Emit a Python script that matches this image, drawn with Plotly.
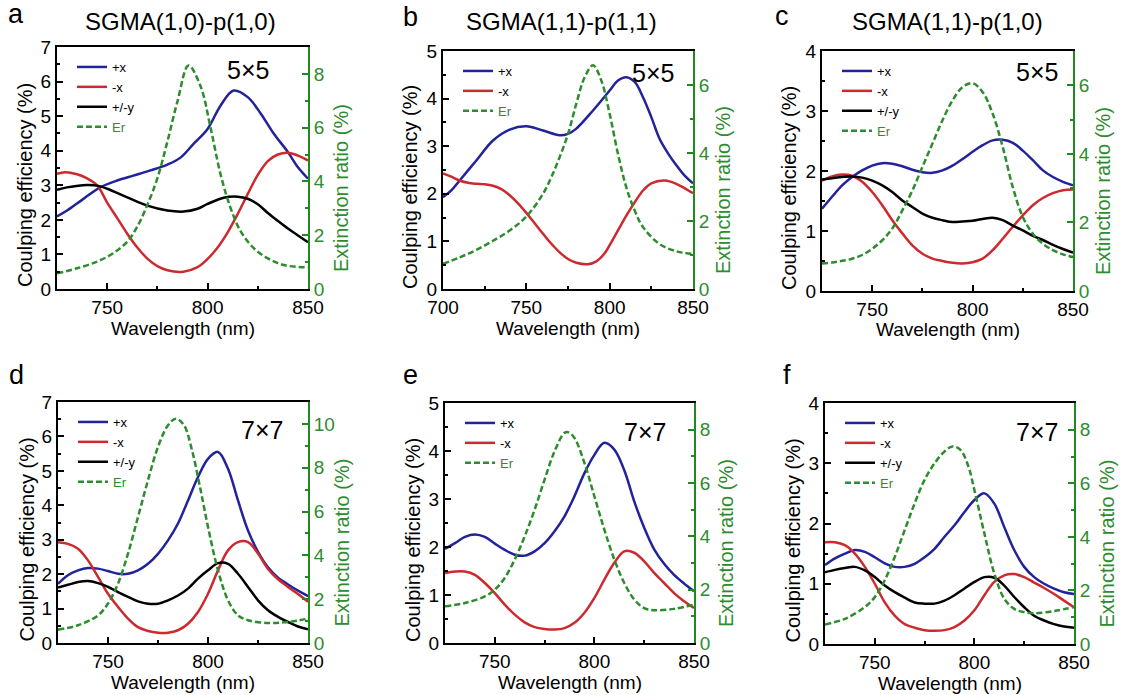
import plotly.graph_objects as go

# ---------------- data ----------------
# Panel a : SGMA(1,0)-p(1,0), 5x5
a_px_wl = [725, 730, 738, 746.5, 755, 763, 771.5, 780, 786.5, 793, 800, 806.5, 813, 820, 826.5, 833, 840, 845, 850]
a_px = [2.1, 2.27, 2.6, 2.94, 3.14, 3.28, 3.43, 3.6, 3.8, 4.2, 4.63, 5.31, 5.74, 5.55, 5.07, 4.49, 3.96, 3.52, 3.19]
a_mx_wl = [725, 729, 735, 740, 745, 750, 755, 760, 765, 770, 775, 780, 788, 795, 800, 805, 810, 815, 820, 825, 830, 835, 840, 845, 850]
a_mx = [3.33, 3.38, 3.32, 3.2, 3.0, 2.5, 2.05, 1.6, 1.2, 0.88, 0.66, 0.54, 0.5, 0.63, 0.87, 1.2, 1.64, 2.17, 2.75, 3.3, 3.7, 3.89, 3.94, 3.86, 3.72]
a_y_wl = [725, 730, 740, 745, 750, 760, 770, 780, 788, 795, 800, 808, 815, 820, 825, 830, 835, 840, 845, 850]
a_y = [2.87, 2.94, 3.01, 2.99, 2.9, 2.65, 2.41, 2.27, 2.24, 2.32, 2.46, 2.64, 2.67, 2.61, 2.45, 2.2, 1.97, 1.75, 1.55, 1.35]
a_er_wl = [725, 735, 745, 753, 760, 765, 770, 775, 780, 785, 790.5, 796.5, 801.5, 806.5, 811.5, 816.5, 823, 830, 838, 850]
a_er = [0.58, 0.77, 1.02, 1.33, 1.76, 2.32, 3.13, 4.12, 5.49, 6.98, 8.31, 7.54, 5.99, 4.25, 3.0, 2.14, 1.52, 1.14, 0.89, 0.8]

# Panel b : SGMA(1,1)-p(1,1), 5x5
b_px_wl = [700, 705, 710, 720, 730, 740, 750, 760, 770, 775, 780, 790, 800, 805, 810, 815, 820, 825, 830, 835, 840, 845, 850]
b_px = [1.93, 2.07, 2.28, 2.7, 3.12, 3.35, 3.42, 3.33, 3.23, 3.26, 3.37, 3.75, 4.17, 4.38, 4.45, 4.35, 4.03, 3.61, 3.15, 2.85, 2.6, 2.38, 2.22]
b_mx_wl = [700, 705, 710, 715, 720, 725, 730, 735, 740, 745, 750, 755, 760, 765, 770, 775, 780, 787, 792, 797, 800, 805, 810, 815, 820, 825, 833, 840, 850]
b_mx = [2.43, 2.36, 2.28, 2.23, 2.21, 2.2, 2.17, 2.1, 1.97, 1.8, 1.6, 1.38, 1.16, 0.95, 0.77, 0.63, 0.55, 0.52, 0.58, 0.75, 0.92, 1.23, 1.54, 1.82, 2.07, 2.22, 2.28, 2.21, 2.01]
b_er_wl = [700, 710, 720, 730, 740, 750, 760, 765, 770, 775, 780, 785, 790, 795, 800, 805, 810, 815, 820, 830, 840, 850]
b_er = [0.74, 0.93, 1.15, 1.42, 1.72, 2.13, 2.8, 3.29, 3.88, 4.56, 5.45, 6.23, 6.58, 6.13, 5.15, 3.97, 2.99, 2.31, 1.82, 1.32, 1.11, 1.03]

# Panel c : SGMA(1,1)-p(1,0), 5x5
c_wl = [725, 730, 735, 740, 745, 750, 755, 760, 765, 770, 775, 780, 785, 790, 795, 800, 805, 810, 815, 820, 825, 830, 835, 840, 845, 850]
c_px = [1.37, 1.57, 1.76, 1.9, 2.01, 2.09, 2.13, 2.12, 2.08, 2.02, 1.98, 1.97, 2.01, 2.09, 2.2, 2.32, 2.43, 2.51, 2.52, 2.47, 2.34, 2.18, 2.01, 1.9, 1.82, 1.76]
c_mx = [1.84, 1.91, 1.94, 1.92, 1.82, 1.65, 1.43, 1.18, 0.96, 0.76, 0.62, 0.54, 0.5, 0.47, 0.46, 0.48, 0.54, 0.68, 0.87, 1.07, 1.26, 1.43, 1.55, 1.63, 1.68, 1.69]
c_y = [1.86, 1.88, 1.9, 1.91, 1.89, 1.84, 1.76, 1.65, 1.51, 1.4, 1.29, 1.22, 1.18, 1.15, 1.16, 1.17, 1.2, 1.22, 1.18, 1.09, 1.01, 0.92, 0.85, 0.77, 0.7, 0.64]
c_er = [0.8, 0.83, 0.88, 0.94, 1.05, 1.23, 1.48, 1.82, 2.35, 2.93, 3.62, 4.3, 4.98, 5.56, 5.95, 6.06, 5.8, 5.17, 4.2, 3.03, 2.16, 1.67, 1.38, 1.19, 1.07, 0.99]

# Panel d : SGMA(1,0)-p(1,0), 7x7
d_wl = [725, 730, 735, 740, 745, 750, 755, 760, 765, 770, 775, 780, 785, 790, 795, 800, 805, 810, 815, 820, 825, 830, 835, 840, 845, 850]
d_px = [1.72, 1.97, 2.11, 2.18, 2.16, 2.09, 2.01, 2.01, 2.11, 2.3, 2.59, 2.98, 3.47, 4.14, 4.82, 5.35, 5.55, 5.06, 4.14, 3.27, 2.65, 2.2, 1.9, 1.7, 1.52, 1.36]
d_mx = [2.93, 2.88, 2.74, 2.4, 1.92, 1.43, 1.05, 0.71, 0.46, 0.35, 0.3, 0.3, 0.37, 0.56, 0.9, 1.43, 2.11, 2.69, 2.93, 2.93, 2.6, 2.15, 1.85, 1.63, 1.42, 1.2]
d_y = [1.61, 1.69, 1.77, 1.8, 1.74, 1.63, 1.48, 1.34, 1.21, 1.14, 1.14, 1.24, 1.38, 1.58, 1.87, 2.11, 2.32, 2.3, 2.01, 1.63, 1.24, 0.95, 0.76, 0.61, 0.48, 0.4]
d_er_wl = [725, 735, 745, 750, 755, 760, 765, 770, 775, 780, 784, 788, 792, 796, 800, 805, 810, 815, 820, 830, 840, 850]
d_er = [0.61, 0.81, 1.26, 1.8, 2.71, 4.08, 5.75, 7.43, 8.95, 9.94, 10.24, 9.94, 8.8, 7.12, 5.3, 3.32, 1.95, 1.26, 1.04, 0.91, 0.96, 1.11]

# Panel e : SGMA(1,1)-p(1,1), 7x7
e_wl = [725, 730, 735, 740, 745, 750, 755, 760, 765, 770, 775, 780, 785, 790, 795, 800, 805, 810, 815, 820, 825, 830, 835, 840, 845, 850]
e_px = [1.96, 2.08, 2.21, 2.26, 2.21, 2.07, 1.94, 1.84, 1.82, 1.91, 2.08, 2.33, 2.64, 3.06, 3.54, 3.92, 4.17, 4.03, 3.6, 2.95, 2.4, 1.95, 1.65, 1.42, 1.24, 1.08]
e_mx = [1.46, 1.49, 1.49, 1.42, 1.25, 1.04, 0.8, 0.59, 0.43, 0.33, 0.29, 0.28, 0.31, 0.42, 0.63, 0.94, 1.32, 1.67, 1.91, 1.88, 1.7, 1.46, 1.25, 1.04, 0.87, 0.73]
e_er_wl = [725, 735, 745, 750, 755, 760, 765, 770, 775, 780, 785, 787, 790, 795, 800, 805, 810, 815, 820, 825, 830, 840, 850]
e_er = [1.38, 1.5, 1.75, 2.0, 2.44, 3.13, 4.0, 5.0, 6.13, 7.19, 7.88, 7.9, 7.69, 6.75, 5.5, 4.25, 3.13, 2.25, 1.63, 1.31, 1.23, 1.28, 1.44]

# Panel f : SGMA(1,1)-p(1,0), 7x7
f_wl = [725, 730, 735, 740, 745, 750, 755, 760, 765, 770, 775, 780, 785, 790, 795, 800, 805, 810, 815, 820, 825, 830, 835, 840, 845, 850]
f_px = [1.31, 1.42, 1.5, 1.56, 1.53, 1.44, 1.34, 1.28, 1.28, 1.33, 1.44, 1.58, 1.78, 1.97, 2.19, 2.39, 2.5, 2.33, 1.94, 1.56, 1.28, 1.11, 1.0, 0.92, 0.86, 0.83]
f_mx = [1.69, 1.69, 1.64, 1.5, 1.28, 1.0, 0.69, 0.47, 0.33, 0.27, 0.23, 0.22, 0.23, 0.28, 0.39, 0.56, 0.81, 1.03, 1.14, 1.16, 1.11, 1.02, 0.93, 0.83, 0.72, 0.61]
f_y = [1.19, 1.23, 1.26, 1.28, 1.22, 1.11, 0.97, 0.86, 0.77, 0.69, 0.67, 0.67, 0.72, 0.81, 0.92, 1.03, 1.11, 1.1, 0.97, 0.78, 0.61, 0.47, 0.39, 0.33, 0.29, 0.27]
f_er_wl = [725, 735, 745, 750, 755, 760, 765, 770, 775, 780, 785, 789, 793, 797, 800, 805, 810, 815, 820, 825, 830, 840, 850]
f_er = [0.73, 0.94, 1.38, 1.75, 2.38, 3.25, 4.25, 5.25, 6.13, 6.75, 7.19, 7.38, 7.25, 6.63, 5.75, 4.13, 2.63, 1.69, 1.31, 1.19, 1.15, 1.23, 1.38]

panel_letters = ["a", "b", "c", "d", "e", "f"]
panel_titles = ["SGMA(1,0)-p(1,0)", "SGMA(1,1)-p(1,1)", "SGMA(1,1)-p(1,0)"]
array_sizes = ["5×5", "5×5", "5×5", "7×7", "7×7", "7×7"]
left_ranges = [[0, 7], [0, 5], [0, 4], [0, 7], [0, 5], [0, 4]]
right_ranges = [[0, 9], [0, 7], [0, 7], [0, 11], [0, 9], [0, 9]]
x_ranges = [[725, 850], [700, 850], [725, 850], [725, 850], [725, 850], [725, 850]]
x_ticks = [[750, 800, 850], [700, 750, 800, 850], [750, 800, 850], [750, 800, 850], [750, 800, 850], [750, 800, 850]]
series_names = ["+x", "-x", "+/-y", "Er"]
x_title = "Wavelength (nm)"
yl_title = "Coulping efficiency (%)"
yr_title = "Extinction ratio (%)"

# ---------------- styling / layout ----------------
W, H = 1121, 695
FONT = "Liberation Sans, Arial, sans-serif"
BLUE = "#22229a"
RED = "#cc2a2e"
BLACK = "#000000"
GREEN = "#2d8c2d"
GREEN_AX = "#1f8a1f"

def px(x):
    return x / W

def py(y):
    return 1 - y / H

# plot-area boxes in pixels (left, top, right, bottom)
boxes = [
    (57, 47, 308, 289),
    (443, 51, 693, 289),
    (822, 51, 1073, 291),
    (58, 402, 308, 643),
    (445, 403, 694, 643),
    (825, 403, 1074, 644),
]
letter_pos = [(16, 14), (410, 17), (782, 16), (16, 375), (410, 375), (787, 375)]
size_pos = [(248, 70), (653, 73), (1037, 72), (262, 430), (645, 432), (1037, 432)]
left_title_x = [25, 410, 789, 26, 413, 792]
right_title_x = [341, 723, 1103, 341, 726, 1106]
title_pos = [(180, 22), (561, 22), (947, 22)]

panels = [
    [(a_px_wl, a_px, BLUE), (a_mx_wl, a_mx, RED), (a_y_wl, a_y, BLACK), (a_er_wl, a_er, GREEN)],
    [(b_px_wl, b_px, BLUE), (b_mx_wl, b_mx, RED), None, (b_er_wl, b_er, GREEN)],
    [(c_wl, c_px, BLUE), (c_wl, c_mx, RED), (c_wl, c_y, BLACK), (c_wl, c_er, GREEN)],
    [(d_wl, d_px, BLUE), (d_wl, d_mx, RED), (d_wl, d_y, BLACK), (d_er_wl, d_er, GREEN)],
    [(e_wl, e_px, BLUE), (e_wl, e_mx, RED), None, (e_er_wl, e_er, GREEN)],
    [(f_wl, f_px, BLUE), (f_wl, f_mx, RED), (f_wl, f_y, BLACK), (f_er_wl, f_er, GREEN)],
]

fig = go.Figure()
layout = dict(
    width=W, height=H,
    margin=dict(l=0, r=0, t=0, b=0),
    paper_bgcolor="white", plot_bgcolor="white",
    font=dict(family=FONT, size=19, color="black"),
    annotations=[],
)

def ann(text, x, y, size, color="black", angle=0, xanchor="center"):
    return dict(text=text, x=px(x), y=py(y), xref="paper", yref="paper",
                xanchor=xanchor, yanchor="middle", showarrow=False, textangle=angle,
                font=dict(size=size, color=color, family=FONT))

for i, (box, series) in enumerate(zip(boxes, panels)):
    k = i + 1
    xname = "x" if k == 1 else f"x{k}"
    yl = 2 * k - 1
    yr = 2 * k
    ylname = "y" if yl == 1 else f"y{yl}"
    yrname = f"y{yr}"
    legname = "legend" if k == 1 else f"legend{k}"
    l, t, r, b = box

    for j, s in enumerate(series):
        if s is None:
            continue
        wl, vals, col = s
        is_er = (j == 3)
        name = series_names[j]
        if is_er:
            name = f"<span style='color:{GREEN}'>Er</span>"
        fig.add_trace(go.Scatter(
            x=wl, y=vals, mode="lines", name=name,
            line=dict(color=col, width=2.5, shape="spline", smoothing=1.0,
                      dash="6px,3px" if is_er else "solid"),
            xaxis=xname, yaxis=yrname if is_er else ylname,
            legend=legname, showlegend=True,
        ))

    xd = [px(l), px(r)]
    yd = [py(b), py(t)]
    layout[f"xaxis{k}" if k > 1 else "xaxis"] = dict(
        domain=xd, anchor=ylname, range=x_ranges[i],
        tickvals=x_ticks[i], ticks="inside", ticklen=6, tickwidth=2, tickcolor="black",
        minor=dict(dtick=25, tick0=700, ticks="inside", ticklen=3, tickwidth=1.5, tickcolor="black"),
        showline=True, linecolor="black", linewidth=2, mirror=True,
        showgrid=False, zeroline=False, automargin=False,
        tickfont=dict(size=19, color="black"),
    )
    layout[f"yaxis{yl}" if yl > 1 else "yaxis"] = dict(
        domain=yd, anchor=xname, range=left_ranges[i], dtick=1,
        ticks="inside", ticklen=6, tickwidth=2, tickcolor="black",
        minor=dict(dtick=0.5, ticks="inside", ticklen=3, tickwidth=1.5, tickcolor="black"),
        showline=True, linecolor="black", linewidth=2,
        showgrid=False, zeroline=False, automargin=False,
        tickfont=dict(size=19, color="black"),
    )
    layout[f"yaxis{yr}"] = dict(
        domain=yd, anchor=xname, overlaying=ylname, side="right",
        range=right_ranges[i], dtick=2,
        ticks="inside", ticklen=6, tickwidth=2, tickcolor=GREEN_AX,
        minor=dict(dtick=1, ticks="inside", ticklen=3, tickwidth=1.5, tickcolor=GREEN_AX),
        showline=True, linecolor=GREEN_AX, linewidth=2,
        showgrid=False, zeroline=False, automargin=False,
        tickfont=dict(size=19, color=GREEN),
    )
    layout[legname] = dict(
        x=px(l + 15), y=py(t + 5), xanchor="left", yanchor="top",
        bgcolor="rgba(0,0,0,0)", borderwidth=0,
        font=dict(size=13, color="black", family=FONT),
        tracegroupgap=0,
    )
    # axis titles
    mid_y = (t + b) / 2 + 17
    layout["annotations"].append(ann(x_title, (l + r) / 2, b + 39, 19))
    layout["annotations"].append(ann(yl_title, left_title_x[i], mid_y, 20, angle=-90))
    layout["annotations"].append(ann(yr_title, right_title_x[i], mid_y + 3, 20, color=GREEN, angle=-90))
    # array size label and panel letter
    layout["annotations"].append(ann(array_sizes[i], size_pos[i][0], size_pos[i][1], 25))
    layout["annotations"].append(ann(panel_letters[i], letter_pos[i][0], letter_pos[i][1], 27))

# column titles
for (cx, cy), txt in zip(title_pos, panel_titles):
    layout["annotations"].append(ann(txt, cx, cy, 24))

fig.update_layout(**layout)
fig.write_html("out.html", config={"displayModeBar": False},
               post_script="document.body.style.margin='0px';")
